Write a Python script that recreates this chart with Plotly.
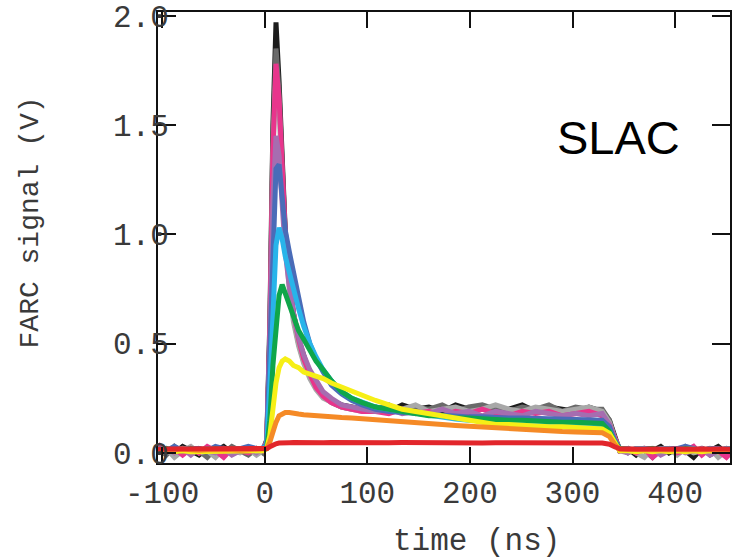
import plotly.graph_objects as go

# time axis (ns)
time_ns = [-104, -96, -88, -80, -72, -64, -56, -48, -40, -32, -24, -16, -8, -2,
           2, 5, 8, 11, 14, 17, 20, 24, 28, 33, 38, 44, 50, 57, 65, 75, 85, 95,
           108, 121, 134, 147, 160, 173, 186, 199, 212, 225, 238, 251, 264, 277, 290, 303, 316, 329,
           336, 341, 346, 354, 362, 370, 378, 386, 394, 402, 410, 418, 426, 434, 442, 450, 456]

sig_black = [0.01, 0.02, 0.00, 0.03, 0.01, -0.01, 0.02, 0.01, 0.03, 0.00, 0.02, 0.01, 0.02, 0.01,
             0.06, 0.60, 1.50, 1.97, 1.70, 1.30, 1.02, 0.80, 0.64, 0.52, 0.44, 0.36, 0.31, 0.27, 0.24, 0.22, 0.21, 0.20,
             0.21, 0.19, 0.22, 0.20, 0.21, 0.19, 0.22, 0.20, 0.21, 0.19, 0.20, 0.22, 0.19, 0.21, 0.20, 0.19, 0.21, 0.19,
             0.15, 0.08, 0.01, 0.02, -0.01, 0.02, 0.01, 0.03, 0.00, 0.02, 0.01, -0.02, 0.02, 0.01, 0.03, 0.00, 0.02]
sig_dgray = [0.02, -0.01, 0.03, 0.00, 0.02, 0.01, -0.02, 0.02, 0.00, 0.03, 0.01, -0.01, 0.02, 0.00,
             0.05, 0.55, 1.45, 1.85, 1.65, 1.28, 1.00, 0.78, 0.62, 0.50, 0.42, 0.35, 0.30, 0.26, 0.23, 0.21, 0.20, 0.20,
             0.20, 0.22, 0.19, 0.21, 0.20, 0.22, 0.19, 0.21, 0.22, 0.20, 0.19, 0.21, 0.20, 0.22, 0.19, 0.21, 0.20, 0.20,
             0.15, 0.07, 0.02, 0.00, 0.02, 0.01, -0.02, 0.02, 0.01, 0.00, 0.03, 0.01, 0.02, -0.01, 0.01, 0.02, 0.00]
sig_lgray = [0.00, 0.02, -0.02, 0.01, 0.03, 0.00, 0.01, -0.02, 0.02, 0.01, 0.00, 0.02, -0.01, 0.01,
             0.05, 0.50, 1.35, 1.75, 1.58, 1.22, 0.96, 0.75, 0.60, 0.49, 0.41, 0.34, 0.29, 0.25, 0.23, 0.21, 0.20, 0.19,
             0.21, 0.19, 0.20, 0.22, 0.19, 0.20, 0.21, 0.19, 0.20, 0.22, 0.20, 0.19, 0.21, 0.20, 0.19, 0.20, 0.21, 0.19,
             0.14, 0.07, 0.01, 0.02, 0.00, -0.02, 0.02, 0.01, 0.02, -0.01, 0.02, 0.00, 0.01, 0.02, -0.02, 0.01, 0.02]
sig_pink = [0.04, 0.01, 0.02, -0.01, 0.02, 0.00, 0.03, 0.01, -0.02, 0.02, 0.01, 0.00, 0.02, 0.01,
            0.05, 0.55, 1.38, 1.78, 1.62, 1.27, 1.01, 0.80, 0.64, 0.52, 0.43, 0.36, 0.30, 0.26, 0.23, 0.21, 0.20, 0.19,
            0.19, 0.18, 0.20, 0.18, 0.19, 0.17, 0.19, 0.18, 0.20, 0.18, 0.17, 0.19, 0.18, 0.19, 0.17, 0.18, 0.19, 0.17,
            0.13, 0.07, 0.01, 0.02, 0.00, 0.02, -0.02, 0.01, 0.02, 0.00, 0.01, 0.03, -0.01, 0.02, 0.01, -0.02, 0.01]
sig_purple = [0.01, 0.02, 0.00, 0.02, -0.01, 0.02, 0.01, 0.00, 0.02, -0.01, 0.01, 0.02, 0.00, 0.02,
              0.05, 0.50, 1.15, 1.45, 1.36, 1.10, 0.92, 0.76, 0.64, 0.53, 0.45, 0.38, 0.33, 0.28, 0.25, 0.22, 0.21, 0.20,
              0.19, 0.20, 0.18, 0.19, 0.18, 0.20, 0.18, 0.19, 0.17, 0.19, 0.18, 0.17, 0.19, 0.18, 0.17, 0.18, 0.17, 0.18,
              0.13, 0.06, 0.01, 0.00, 0.02, 0.01, 0.02, -0.01, 0.01, 0.02, 0.00, 0.01, 0.02, -0.01, 0.01, 0.02, 0.00]
sig_blue = [0.02, 0.01, 0.03, 0.01, 0.02, 0.02, 0.01, 0.03, 0.02, 0.01, 0.02, 0.03, 0.02, 0.02,
            0.04, 0.45, 1.00, 1.30, 1.32, 1.16, 1.02, 0.92, 0.82, 0.70, 0.60, 0.50, 0.43, 0.37, 0.31, 0.27, 0.24, 0.22,
            0.20, 0.19, 0.185, 0.18, 0.175, 0.17, 0.17, 0.165, 0.165, 0.16, 0.16, 0.16, 0.158, 0.158, 0.155, 0.155, 0.155, 0.15,
            0.12, 0.06, 0.02, 0.02, 0.01, 0.02, 0.02, 0.01, 0.02, 0.02, 0.03, 0.02, 0.01, 0.02, 0.02, 0.01, 0.02]
sig_cyan = [0.02, 0.02, 0.01, 0.02, 0.02, 0.01, 0.02, 0.02, 0.01, 0.02, 0.02, 0.02, 0.01, 0.02,
            0.03, 0.30, 0.70, 0.95, 1.03, 0.98, 0.90, 0.82, 0.75, 0.66, 0.58, 0.50, 0.44, 0.38, 0.33, 0.28, 0.25, 0.23,
            0.21, 0.20, 0.19, 0.18, 0.17, 0.16, 0.155, 0.15, 0.145, 0.14, 0.14, 0.14, 0.135, 0.135, 0.13, 0.13, 0.13, 0.125,
            0.10, 0.05, 0.02, 0.01, 0.02, 0.02, 0.01, 0.02, 0.02, 0.01, 0.02, 0.02, 0.01, 0.02, 0.01, 0.02, 0.02]
sig_green = [0.01, 0.02, 0.01, 0.01, 0.02, 0.01, 0.01, 0.02, 0.01, 0.02, 0.01, 0.01, 0.02, 0.01,
             0.02, 0.15, 0.40, 0.60, 0.72, 0.77, 0.73, 0.67, 0.61, 0.56, 0.52, 0.47, 0.42, 0.38, 0.33, 0.28, 0.25, 0.23,
             0.21, 0.20, 0.19, 0.18, 0.17, 0.17, 0.16, 0.16, 0.155, 0.15, 0.15, 0.15, 0.145, 0.145, 0.14, 0.14, 0.14, 0.135,
             0.10, 0.05, 0.02, 0.015, 0.01, 0.015, 0.02, 0.01, 0.015, 0.01, 0.02, 0.015, 0.01, 0.015, 0.01, 0.015, 0.01]
sig_yellow = [0.005, 0.01, 0.005, 0.01, 0.005, 0.005, 0.01, 0.005, 0.01, 0.005, 0.01, 0.005, 0.005, 0.01,
              0.02, 0.08, 0.20, 0.32, 0.39, 0.42, 0.43, 0.42, 0.40, 0.39, 0.37, 0.36, 0.35, 0.34, 0.32, 0.30, 0.28, 0.26,
              0.24, 0.22, 0.20, 0.19, 0.18, 0.17, 0.16, 0.15, 0.14, 0.13, 0.13, 0.125, 0.12, 0.12, 0.12, 0.115, 0.115, 0.11,
              0.09, 0.05, 0.01, 0.01, 0.005, 0.01, 0.005, 0.01, 0.005, 0.01, 0.005, 0.01, 0.005, 0.01, 0.005, 0.01, 0.005]
sig_orange = [0.015, 0.012, 0.015, 0.018, 0.015, 0.012, 0.015, 0.015, 0.018, 0.015, 0.012, 0.015, 0.015, 0.016,
              0.02, 0.05, 0.10, 0.14, 0.17, 0.18, 0.185, 0.185, 0.18, 0.178, 0.175, 0.172, 0.17, 0.168, 0.165, 0.162, 0.16, 0.157,
              0.155, 0.15, 0.145, 0.14, 0.135, 0.13, 0.126, 0.122, 0.118, 0.114, 0.11, 0.107, 0.104, 0.101, 0.098, 0.096, 0.094, 0.092,
              0.075, 0.04, 0.018, 0.015, 0.016, 0.015, 0.014, 0.016, 0.015, 0.015, 0.016, 0.014, 0.015, 0.016, 0.015, 0.014, 0.015]
sig_red = [0.018, 0.018, 0.019, 0.018, 0.018, 0.019, 0.018, 0.018, 0.018, 0.019, 0.018, 0.018, 0.019, 0.019,
           0.02, 0.028, 0.036, 0.042, 0.045, 0.047, 0.048, 0.047, 0.048, 0.047, 0.048, 0.047, 0.048, 0.047, 0.048, 0.047, 0.048, 0.047,
           0.048, 0.047, 0.048, 0.047, 0.047, 0.048, 0.047, 0.047, 0.046, 0.047, 0.046, 0.046, 0.047, 0.046, 0.046, 0.046, 0.045, 0.045,
           0.04, 0.028, 0.019, 0.018, 0.018, 0.018, 0.018, 0.018, 0.018, 0.018, 0.018, 0.018, 0.018, 0.018, 0.018, 0.018, 0.018]

series = [
    (sig_black, "#1c1c1c"),
    (sig_dgray, "#6a6a6a"),
    (sig_lgray, "#a8a8a8"),
    (sig_pink, "#e8358c"),
    (sig_purple, "#a66db0"),
    (sig_blue, "#4a6cb8"),
    (sig_cyan, "#28b4ea"),
    (sig_green, "#0fa64a"),
    (sig_yellow, "#f6ef16"),
    (sig_orange, "#f58a26"),
    (sig_red, "#e2262b"),
]

x_tick_vals = [-100, 0, 100, 200, 300, 400]
x_tick_labels = ["-100", "0", "100", "200", "300", "400"]
y_tick_vals = [0.0, 0.5, 1.0, 1.5, 2.0]
y_tick_labels = ["0.0", "0.5", "1.0", "1.5", "2.0"]

MONO = "Liberation Mono, Courier New, monospace"
TXT = "#3a3a3a"

fig = go.Figure()
for vals, col in series:
    fig.add_trace(go.Scatter(x=time_ns, y=vals, mode="lines",
                             line=dict(color=col, width=5), showlegend=False,
                             hoverinfo="skip"))

axis_common = dict(showline=True, linecolor="#111", linewidth=2, mirror="ticks",
                   ticks="inside", tickcolor="#111", tickwidth=2,
                   showgrid=False, zeroline=False,
                   tickfont=dict(family=MONO, size=31, color=TXT))

fig.update_xaxes(range=[-104, 453.5], tickvals=x_tick_vals, ticktext=x_tick_labels,
                 ticklen=16, ticklabelstandoff=1, **axis_common)
fig.update_yaxes(range=[-0.046, 2.017], tickvals=y_tick_vals, ticktext=y_tick_labels,
                 ticklen=18, ticklabelstandoff=-19, **axis_common)

fig.add_annotation(text="time (ns)", xref="paper", yref="paper",
                   x=(478 - 158) / 574, y=(463 - 541) / 451, xanchor="center", yanchor="middle",
                   showarrow=False, font=dict(family=MONO, size=31, color=TXT))
fig.add_annotation(text="FARC signal (V)", xref="paper", yref="paper",
                   x=(31 - 158) / 574, y=(463 - 222) / 451, xanchor="center", yanchor="middle",
                   textangle=-90, showarrow=False, font=dict(family=MONO, size=28, color=TXT))
fig.add_annotation(text="SLAC", xref="paper", yref="paper",
                   x=(620 - 158) / 574, y=(463 - 137) / 451, xanchor="center", yanchor="middle",
                   showarrow=False, font=dict(family="Liberation Sans, Arial, sans-serif", size=47, color="#000"))

fig.update_layout(width=732, height=558, margin=dict(l=158, r=0, t=12, b=95),
                  paper_bgcolor="white", plot_bgcolor="white")

fig.write_html("out.html")
